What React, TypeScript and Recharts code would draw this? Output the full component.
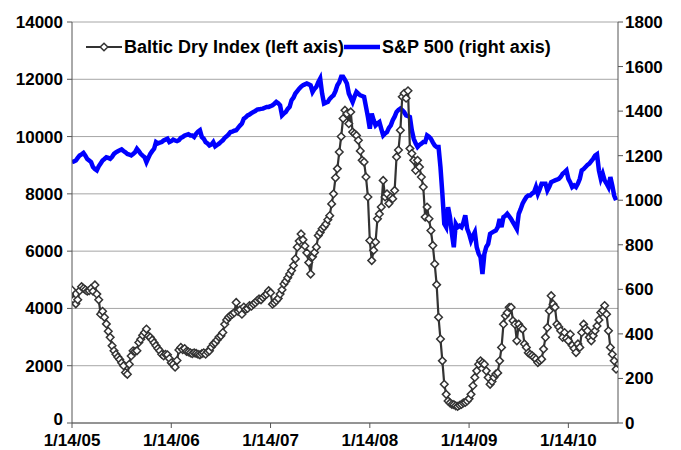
import { ComposedChart, Line, XAxis, YAxis, CartesianGrid } from "recharts";

const FONT = '"Liberation Sans", Arial, Helvetica, sans-serif';

// week index (0 = 1/14/05) where each x label sits
const labelWeeks = [0, 52, 104, 156, 208, 260];
const dateLabels = ["1/14/05", "1/14/06", "1/14/07", "1/14/08", "1/14/09", "1/14/10"];

const leftTicks = [0, 2000, 4000, 6000, 8000, 10000, 12000, 14000];
const rightTicks = [0, 200, 400, 600, 800, 1000, 1200, 1400, 1600, 1800];

// Baltic Dry Index, weekly
const bdi = [
  4640, 4300, 4160, 4300, 4620, 4760, 4700, 4650, 4600, 4620,
  4700, 4600, 4820, 4500, 4300, 3800, 3900, 3690, 3460, 3200,
  2990, 2700, 2520, 2400, 2300, 2220, 2100, 2000, 1760, 1700,
  2050, 2340, 2520, 2500, 2520, 2810, 2920, 3060, 3160, 3280,
  3040, 2990, 2900, 2800, 2700, 2600, 2520, 2400, 2340, 2400,
  2380, 2250, 2100, 2050, 1950, 2180, 2550, 2640, 2560, 2600,
  2500, 2480, 2450, 2420, 2450, 2430, 2400, 2380, 2420, 2450,
  2400, 2480, 2520, 2650, 2760, 2800, 2900, 3000, 3045, 3160,
  3450, 3600, 3690, 3750, 3800, 3850, 4210, 3900, 3950, 3800,
  4050, 3970, 4000, 4100, 4080, 4150, 4200, 4270, 4330, 4300,
  4380, 4450, 4500, 4620, 4550, 4150, 4200, 4270, 4350, 4500,
  4650, 4850, 4950, 5070, 5200, 5320, 5500, 5730, 6140, 6350,
  6600, 6400, 6180, 5940, 5600, 5200, 5800, 5950, 6140, 6545,
  6650, 6780, 6850, 6950, 7100, 7240, 7650, 8000, 8560, 8880,
  9460, 10000, 10630, 10920, 10800, 10450, 10860, 10160, 10100, 10040,
  9870, 9500, 9170, 9110, 8590, 7890, 6370, 5670, 6030, 6320,
  7130, 7300, 7540, 8470, 7890, 8000, 7660, 7890, 7830, 8120,
  9290, 9530, 10220, 11390, 11510, 11340, 11600, 9580, 9410, 9170,
  8820, 9170, 8940, 8590, 8240, 7190, 7540, 7130, 6720, 6200,
  5550, 4830, 3690, 2930, 2170, 1350, 1000, 770, 700, 650,
  640, 600, 580, 620, 650, 700, 720, 770, 850, 1000,
  1300, 1590, 1820, 2050, 2170, 2100, 2050, 1820, 1590, 1350,
  1450, 1590, 1710, 1750, 2170, 2640, 3450, 3745, 3850, 4040,
  4040, 3570, 3450, 2870, 3450, 3330, 3280, 2760, 2640, 2450,
  2400, 2350, 2290, 2230, 2110, 2170, 2230, 2580, 2990, 3330,
  3920, 4445, 4150, 4040, 3450, 3350, 3220, 2990, 3160, 2950,
  2870, 3100, 2710, 2600, 2460, 2760, 2640, 3160, 3450, 3300,
  3220, 2990, 2870, 3050, 3220, 3390, 3600, 3860, 3920, 4100,
  3800, 3220, 2640, 2400, 2170, 1880,
];

// S&P 500, weekly
const spx = [
  1171, 1174, 1178, 1190, 1201, 1206, 1212, 1200, 1185, 1178,
  1171, 1149, 1140, 1134, 1152, 1165, 1178, 1185, 1193, 1190,
  1186, 1195, 1208, 1215, 1220, 1224, 1228, 1221, 1215, 1208,
  1205, 1201, 1208, 1215, 1231, 1220, 1208, 1200, 1193, 1171,
  1190, 1208, 1220, 1231, 1261, 1255, 1258, 1261, 1268, 1272,
  1276, 1261, 1265, 1272, 1268, 1265, 1269, 1280, 1284, 1290,
  1293, 1296, 1291, 1291, 1284, 1298, 1308, 1314, 1284, 1276,
  1261, 1255, 1246, 1250, 1261, 1242, 1248, 1254, 1262, 1269,
  1280, 1287, 1295, 1306, 1308, 1312, 1314, 1325, 1335, 1344,
  1366, 1372, 1381, 1385, 1391, 1396, 1400, 1407, 1408, 1410,
  1411, 1415, 1419, 1419, 1422, 1426, 1433, 1441, 1435, 1426,
  1381, 1390, 1396, 1410, 1419, 1449, 1460, 1479, 1490, 1501,
  1510, 1516, 1520, 1524, 1520, 1516, 1486, 1500, 1509, 1530,
  1546, 1479, 1434, 1438, 1441, 1455, 1464, 1471, 1490, 1516,
  1530, 1554, 1554, 1540, 1524, 1479, 1460, 1441, 1465, 1486,
  1478, 1471, 1468, 1464, 1419, 1374, 1321, 1389, 1360, 1336,
  1345, 1351, 1320, 1291, 1300, 1306, 1325, 1336, 1359, 1375,
  1396, 1405, 1411, 1404, 1395, 1381, 1378, 1374, 1314, 1276,
  1255, 1239, 1248, 1254, 1261, 1261, 1291, 1285, 1276, 1260,
  1246, 1239, 1239, 1149, 1029, 894, 879, 969, 924, 850,
  789, 894, 879, 885, 879, 900, 932, 872, 850, 819,
  840, 857, 789, 760, 744, 669, 759, 790, 804, 849,
  855, 860, 864, 879, 916, 879, 924, 930, 939, 928,
  916, 900, 886, 871, 939, 960, 984, 1000, 1014, 1021,
  1021, 1030, 1036, 1059, 1029, 1050, 1074, 1074, 1074, 1044,
  1060, 1081, 1085, 1089, 1092, 1096, 1105, 1119, 1126, 1134,
  1096, 1080, 1059, 1066, 1059, 1075, 1096, 1134, 1140, 1149,
  1158, 1164, 1175, 1186, 1200, 1206, 1134, 1096, 1119, 1089,
  1075, 1059, 1104, 1066, 1021, 1000,
];

const data = bdi.map((v, i) => ({ week: i, bdi: v, spx: spx[i] }));

const tickStyle = { fontSize: 17, fontWeight: 700, fill: "#000", fontFamily: FONT };

// left tick: the bottom "0" sits a little high so it clears the date labels
const LeftTick = (props: any) => {
  const { x, y, payload } = props;
  const lift = payload.value === 0 ? -4 : 0;
  return (
    <text x={x} y={y + lift} dy="0.355em" textAnchor="end" {...tickStyle}>
      {payload.value}
    </text>
  );
};

const Diamond = (props: any) => {
  const { cx, cy, index } = props;
  if (cx == null || cy == null) return null;
  const r = 3.8;
  return (
    <polygon
      key={`d-${index}`}
      points={`${cx},${cy - r} ${cx + r},${cy} ${cx},${cy + r} ${cx - r},${cy}`}
      fill="#fff"
      stroke="#333"
      strokeWidth={1.5}
    />
  );
};

export default function App() {
  return (
    <div style={{ position: "absolute", left: 0, top: 0, width: 681, height: 450, background: "#fff" }}>
      <ComposedChart
        width={681}
        height={450}
        data={data}
        margin={{ top: 22, right: 0, bottom: 0, left: 0 }}
      >
        <CartesianGrid vertical={false} stroke="#a6a6a6" yAxisId="left" />
        <XAxis
          dataKey="week"
          type="number"
          domain={[0, 286]}
          ticks={labelWeeks}
          tickFormatter={(w: number) => dateLabels[labelWeeks.indexOf(w)] ?? ""}
          tick={tickStyle}
          tickSize={5}
          tickMargin={6}
          height={27}
          stroke="#555"
          interval={0}
          allowDataOverflow
        />
        <YAxis
          yAxisId="left"
          domain={[0, 14000]}
          ticks={leftTicks}
          tick={<LeftTick />}
          tickSize={5}
          tickMargin={4}
          width={72}
          stroke="#555"
          interval={0}
        />
        <YAxis
          yAxisId="right"
          orientation="right"
          domain={[0, 1800]}
          ticks={rightTicks}
          tick={{ ...tickStyle, textAnchor: "start" }}
          tickSize={5}
          tickMargin={2}
          width={63}
          stroke="#555"
          interval={0}
        />
        <Line
          yAxisId="right"
          dataKey="spx"
          type="linear"
          stroke="#0000ff"
          strokeWidth={4.5}
          dot={false}
          isAnimationActive={false}
        />
        <Line
          yAxisId="left"
          dataKey="bdi"
          type="linear"
          stroke="#333"
          strokeWidth={2.2}
          dot={Diamond}
          activeDot={false}
          isAnimationActive={false}
        />
      </ComposedChart>

      {/* legend */}
      <div
        style={{
          position: "absolute",
          left: 86,
          top: 36,
          display: "flex",
          alignItems: "center",
          fontFamily: FONT,
          fontWeight: 700,
          fontSize: 18,
          color: "#000",
          whiteSpace: "nowrap",
          lineHeight: "22px",
        }}
      >
        <svg width={36} height={12} style={{ marginRight: 2 }}>
          <line x1={0} y1={6} x2={36} y2={6} stroke="#333" strokeWidth={2.2} />
          <polygon points="18,2.2 21.8,6 18,9.8 14.2,6" fill="#fff" stroke="#333" strokeWidth={1.5} />
        </svg>
        <span>Baltic Dry Index (left axis)</span>
        <svg width={36} height={12} style={{ marginLeft: 0, marginRight: 2 }}>
          <line x1={0} y1={6} x2={36} y2={6} stroke="#0000ff" strokeWidth={4.5} />
        </svg>
        <span>S&amp;P 500 (right axis)</span>
      </div>
    </div>
  );
}
